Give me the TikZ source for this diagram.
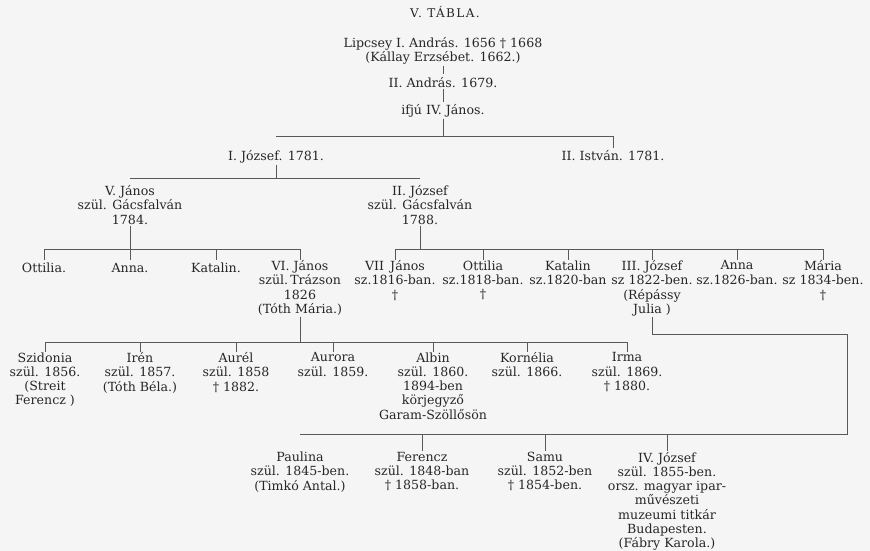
\documentclass[tikz,border=0pt]{standalone}
\usepackage{fontspec}
\setmainfont{DejaVu Serif}
\usepackage{tikz}

\begin{document}
\begin{tikzpicture}[
    x=1pt, y=-1pt,
    pers/.style={anchor=north, align=center, inner sep=1pt, text=black!85, font=\fontsize{12.6}{14.2}\selectfont, execute at begin node={\rule{0pt}{12pt}}},
    title/.style={anchor=north, inner sep=1pt, text=black!85, font=\fontsize{12}{13}\selectfont\addfontfeatures{LetterSpace=12}},
    line/.style={draw=black!65, line width=0.6pt},
]
\path[use as bounding box, fill=black!4] (0,0) rectangle (870,551);
% elders
\node[title] (tabla) at (445,5) {V. TÁBLA.};
\node[pers] (lipcsey) at (443,36.5) {Lipcsey I. András. 1656 \dag{} 1668\\(Kállay Erzsébet. 1662.)};
\node[pers] (andras) at (443,74.5) {II. András. 1679.};
\node[pers] (ifju) at (443,101.5) {ifjú IV. János.};
\coordinate (b1) at (0,136);
\node[pers] (jozsefI) at (276,147.5) {I. József. 1781.};
\node[pers] (istvan) at (613,147.5) {II. István. 1781.};
\coordinate (b2) at (0,178);
\node[pers] (janosV) at (130,184.5) {V. János\\szül. Gácsfalván\\1784.};
\node[pers] (jozsefII) at (420,184.5) {II. József\\szül. Gácsfalván\\1788.};
\coordinate (b3) at (0,249);
% third row
\node[pers] (ottiliaA) at (44,259.5) {Ottilia.};
\node[pers] (annaA) at (130,259.5) {Anna.};
\node[pers] (katalinA) at (216,259.5) {Katalin.};
\node[pers] (janosVI) at (300,259.5) {VI. János\\szül.\,Trázson\\1826\\(Tóth Mária.)};
\node[pers] (janosVII) at (395,259.5) {VII\, János\\sz.1816-ban.\\\dag};
\node[pers] (ottiliaB) at (483,259.5) {Ottilia\\sz.1818-ban.\\\dag};
\node[pers] (katalinB) at (568,259.5) {Katalin\\sz.1820-ban};
\node[pers] (jozsefIII) at (652,259.5) {III. József\\sz 1822-ben.\\(Répássy\\Julia )};
\node[pers] (annaB) at (737,259.5) {Anna\\sz.1826-ban.};
\node[pers] (maria) at (823,259.5) {Mária\\sz 1834-ben.\\\dag};
\coordinate (b4) at (0,342);
% fourth row
\node[pers] (szidonia) at (45,351.5) {Szidonia\\szül. 1856.\\(Streit\\Ferencz )};
\node[pers] (iren) at (140,351.5) {Irén\\szül. 1857.\\(Tóth Béla.)};
\node[pers] (aurel) at (236,351.5) {Aurél\\szül. 1858\\\dag{} 1882.};
\node[pers] (aurora) at (333,351.5) {Aurora\\szül. 1859.};
\node[pers] (albin) at (433,351.5) {Albin\\szül. 1860.\\1894-ben\\körjegyző\\Garam-Szöllősön};
\node[pers] (kornelia) at (527,351.5) {Kornélia\\szül. 1866.};
\node[pers] (irma) at (627,351.5) {Irma\\szül. 1869.\\\dag{} 1880.};
\coordinate (sarok) at (847,334);
\coordinate (b5) at (0,434);
% fifth row
\node[pers] (paulina) at (300,451) {Paulina\\szül. 1845-ben.\\(Timkó Antal.)};
\node[pers] (ferencz) at (422,451) {Ferencz\\szül. 1848-ban\\\dag{} 1858-ban.};
\node[pers] (samu) at (545,451) {Samu\\szül. 1852-ben\\\dag{} 1854-ben.};
\node[pers] (jozsefIV) at (667,451) {IV. József\\szül. 1855-ben.\\orsz. magyar ipar-\\művészeti\\muzeumi titkár\\Budapesten.\\(Fábry Karola.)};
% lines of descent
\draw[line] (lipcsey) -- (andras);
\draw[line] (andras) -- (ifju);
\draw[line] (ifju) -- (ifju |- b1);
\draw[line] (jozsefI |- b1) -- (istvan |- b1);
\draw[line] (istvan |- b1) -- (istvan);
\draw[line] (jozsefI) -- (jozsefI |- b2);
\draw[line] (janosV |- b2) -- (jozsefII |- b2);
\draw[line] (janosV) -- (janosV |- b3);
\draw[line] (ottiliaA |- b3) -- (janosVI |- b3);
\draw[line] (ottiliaA |- b3) -- (ottiliaA);
\draw[line] (annaA |- b3) -- (annaA);
\draw[line] (katalinA |- b3) -- (katalinA);
\draw[line] (janosVI |- b3) -- (janosVI);
\draw[line] (jozsefII) -- (jozsefII |- b3);
\draw[line] (janosVII |- b3) -- (maria |- b3);
\draw[line] (janosVII |- b3) -- (janosVII);
\draw[line] (ottiliaB |- b3) -- (ottiliaB);
\draw[line] (katalinB |- b3) -- (katalinB);
\draw[line] (jozsefIII |- b3) -- (jozsefIII);
\draw[line] (annaB |- b3) -- (annaB);
\draw[line] (maria |- b3) -- (maria);
\draw[line] (janosVI) -- (janosVI |- b4);
\draw[line] (szidonia |- b4) -- (irma |- b4);
\draw[line] (szidonia |- b4) -- (szidonia);
\draw[line] (iren |- b4) -- (iren);
\draw[line] (aurel |- b4) -- (aurel);
\draw[line] (aurora |- b4) -- (aurora);
\draw[line] (albin |- b4) -- (albin);
\draw[line] (kornelia |- b4) -- (kornelia);
\draw[line] (irma |- b4) -- (irma);
\draw[line] (jozsefIII) |- (sarok) |- (paulina |- b5);
\draw[line] (ferencz |- b5) -- (ferencz);
\draw[line] (samu |- b5) -- (samu);
\draw[line] (jozsefIV |- b5) -- (jozsefIV);
\end{tikzpicture}
\end{document}
